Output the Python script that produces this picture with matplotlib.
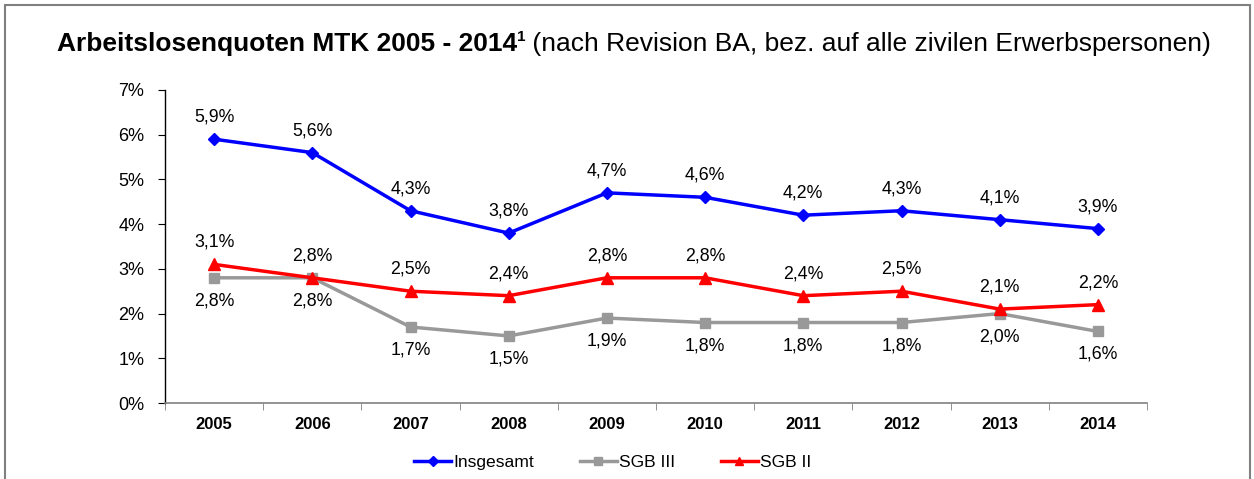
import matplotlib
matplotlib.use("Agg")
import matplotlib.pyplot as plt
from matplotlib.patches import Rectangle

years = ["2005", "2006", "2007", "2008", "2009", "2010", "2011", "2012", "2013", "2014"]
insgesamt = [5.9, 5.6, 4.3, 3.8, 4.7, 4.6, 4.2, 4.3, 4.1, 3.9]
sgb3 = [2.8, 2.8, 1.7, 1.5, 1.9, 1.8, 1.8, 1.8, 2.0, 1.6]
sgb2 = [3.1, 2.8, 2.5, 2.4, 2.8, 2.8, 2.4, 2.5, 2.1, 2.2]
yticks = [0, 1, 2, 3, 4, 5, 6, 7]

plt.rcParams['font.family'] = ['Liberation Sans', 'DejaVu Sans']

fig = plt.figure(figsize=(12.54, 4.79), dpi=100)
W, H = 1254, 479
ax = fig.add_axes([165 / W, 1 - 403 / H, (1147 - 165) / W, (403 - 90) / H])

x = list(range(len(years)))
ax.plot(x, insgesamt, color='#0000FF', lw=2.5, marker='D', ms=6, label='Insgesamt', zorder=4)
ax.plot(x, sgb3, color='#999999', lw=2.5, marker='s', ms=7, label='SGB III', zorder=3)
ax.plot(x, sgb2, color='#FF0000', lw=2.5, marker='^', ms=8, label='SGB II', zorder=5)

def fmt(v):
    return f"{v:.1f}".replace('.', ',') + '%'

LFS = 12.8
for i in x:
    ax.annotate(fmt(insgesamt[i]), (i, insgesamt[i]), xytext=(0, 22), textcoords='offset pixels',
                ha='center', va='center', fontsize=LFS)
    ax.annotate(fmt(sgb2[i]), (i, sgb2[i]), xytext=(0, 22), textcoords='offset pixels',
                ha='center', va='center', fontsize=LFS)
    ax.annotate(fmt(sgb3[i]), (i, sgb3[i]), xytext=(0, -23), textcoords='offset pixels',
                ha='center', va='center', fontsize=LFS)

ax.set_xlim(-0.5, len(years) - 0.5)
ax.set_ylim(0, 7)
ax.set_yticks(yticks)
ax.set_yticklabels([f"{t}%" for t in yticks], fontsize=13)
ax.set_xticks(x)
ax.set_xticklabels(years, fontsize=12, fontweight='bold')
ax.set_xticks([i + 0.5 for i in range(-1, len(years))], minor=True)
ax.tick_params(axis='x', which='major', length=0, pad=10)
ax.tick_params(axis='x', which='minor', length=5, direction='out', color='#808080')
ax.tick_params(axis='y', length=5, direction='out', pad=10)
ax.spines['top'].set_visible(False)
ax.spines['right'].set_visible(False)
ax.spines['bottom'].set_color('#808080')
ax.spines['bottom'].set_linewidth(1.2)
ax.spines['left'].set_linewidth(1.0)

leg = fig.legend(loc='center', bbox_to_anchor=(613 / W, 1 - 462 / H), ncol=3, frameon=False,
                 fontsize=12.6, handlelength=2.1, handletextpad=0.15, columnspacing=2.6,
                 markerscale=0.8)

# Figure border
fig.patches.append(Rectangle((5 / W, -0.1), (1250 - 5) / W, 1 - 5 / H + 0.1,
                             transform=fig.transFigure, fill=False, ec='#808080', lw=1.5))

# Title composed of parts
renderer = fig.canvas.get_renderer()
ty = 1 - 44 / H
t1 = fig.text(0, ty, "Arbeitslosenquoten MTK 2005 - 2014", fontsize=19, fontweight='bold', va='center')
t2 = fig.text(0, ty + 7 / H, "1", fontsize=11, fontweight='bold', va='center')
t3 = fig.text(0, ty, " (nach Revision BA, bez. auf alle zivilen Erwerbspersonen)", fontsize=19, va='center')
ws = [t.get_window_extent(renderer).width for t in (t1, t2, t3)]
total = sum(ws)
start = 634 - total / 2
pos = start
for t, w in zip((t1, t2, t3), ws):
    t.set_x(pos / W)
    pos += w

fig.savefig("out.png", dpi=100)
